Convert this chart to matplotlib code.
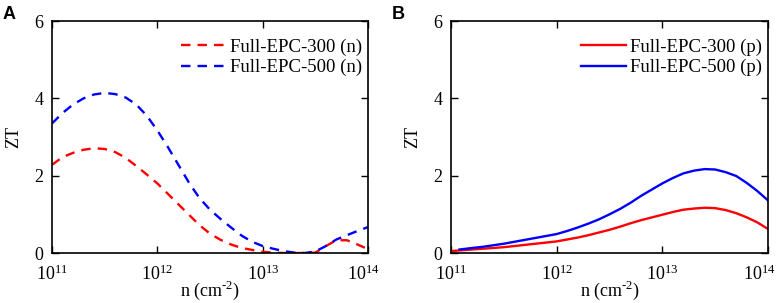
import numpy as np
import matplotlib
matplotlib.use("Agg")
import matplotlib.pyplot as plt
from matplotlib.transforms import ScaledTranslation

# ---- data (log10 of n, ZT) ----
logn_a = [11.0, 11.1, 11.2, 11.3, 11.4, 11.5, 11.6, 11.7, 11.8, 11.9, 12.0,
          12.1, 12.2, 12.3, 12.4, 12.5, 12.6, 12.7, 12.8, 12.9, 13.0, 13.1,
          13.2, 13.3, 13.4, 13.5, 13.6, 13.7, 13.8, 13.9, 14.0]
zt_n300 = [2.28, 2.48, 2.59, 2.67, 2.71, 2.69, 2.61, 2.46, 2.25, 2.03, 1.80,
           1.53, 1.26, 0.99, 0.72, 0.50, 0.34, 0.22, 0.13, 0.08, 0.03, 0.01,
           0.0, 0.0, 0.0, 0.01, 0.18, 0.33, 0.33, 0.22, 0.10]
zt_n500 = [3.35, 3.62, 3.84, 4.00, 4.10, 4.14, 4.11, 4.02, 3.84, 3.55, 3.17,
           2.74, 2.28, 1.82, 1.42, 1.12, 0.88, 0.66, 0.45, 0.29, 0.18, 0.11,
           0.05, 0.01, 0.0, 0.04, 0.18, 0.35, 0.46, 0.57, 0.67]

logn_b300 = [11.0, 11.1, 11.2, 11.3, 11.4, 11.5, 11.6, 11.7, 11.8, 11.9, 12.0,
             12.1, 12.2, 12.3, 12.4, 12.5, 12.6, 12.7, 12.8, 12.9, 13.0, 13.1,
             13.2, 13.3, 13.4, 13.5, 13.6, 13.7, 13.8, 13.9, 14.0]
zt_p300 = [0.05, 0.07, 0.09, 0.11, 0.13, 0.15, 0.18, 0.21, 0.24, 0.27, 0.30,
           0.35, 0.40, 0.46, 0.53, 0.60, 0.68, 0.77, 0.85, 0.92, 0.99, 1.06,
           1.12, 1.15, 1.17, 1.16, 1.11, 1.03, 0.92, 0.79, 0.62]
logn_b500 = [11.08, 11.2, 11.3, 11.4, 11.5, 11.6, 11.7, 11.8, 11.9, 12.0,
             12.1, 12.2, 12.3, 12.4, 12.5, 12.6, 12.7, 12.8, 12.9, 13.0, 13.1,
             13.2, 13.3, 13.4, 13.5, 13.6, 13.7, 13.8, 13.9, 14.0]
zt_p500 = [0.09, 0.13, 0.16, 0.20, 0.24, 0.29, 0.34, 0.39, 0.44, 0.49,
           0.57, 0.66, 0.76, 0.87, 1.00, 1.14, 1.30, 1.48, 1.64, 1.80, 1.94,
           2.06, 2.13, 2.17, 2.16, 2.09, 1.99, 1.81, 1.60, 1.36]

xticks = [1e11, 1e12, 1e13, 1e14]
xticklabels = [r"$\mathregular{10^{11}}$", r"$\mathregular{10^{12}}$",
               r"$\mathregular{10^{13}}$", r"$\mathregular{10^{14}}$"]
yticks = [0, 2, 4, 6]

plt.rcParams['font.family'] = ['Liberation Serif', 'DejaVu Serif']
plt.rcParams['mathtext.fontset'] = 'custom'
plt.rcParams['mathtext.rm'] = 'Liberation Serif'

fig = plt.figure(figsize=(7.82, 3.03), dpi=100)
W, H = 782, 303
axA = fig.add_axes([52 / W, 1 - 253 / H, (368 - 52) / W, (253 - 21) / H])
axB = fig.add_axes([451 / W, 1 - 253 / H, (768 - 451) / W, (253 - 21) / H])


def style(ax, last_shift_px):
    ax.set_xscale('log')
    ax.set_xlim(1e11, 1e14)
    ax.set_ylim(0, 6)
    ax.set_xticks(xticks)
    ax.set_xticklabels(xticklabels)
    ax.xaxis.set_minor_locator(matplotlib.ticker.NullLocator())
    ax.set_yticks(yticks)
    ax.tick_params(direction='in', top=True, right=True, length=5, width=1.0,
                   labelsize=13)
    ax.tick_params(axis='x', pad=8)
    ax.tick_params(axis='y', pad=6)
    for s in ax.spines.values():
        s.set_linewidth(1.2)
    ax.set_xlabel(r"n (cm$^{\text{-2}}$)", fontsize=13, labelpad=-3.5)
    ax.set_ylabel("ZT", fontsize=13, labelpad=9)
    lab = ax.get_xticklabels()[-1]
    lab.set_transform(lab.get_transform() +
                      ScaledTranslation(-last_shift_px / 100, 0, fig.dpi_scale_trans))


leg_kw = dict(loc='upper right', bbox_to_anchor=(1.011, 0.964), frameon=False,
              fontsize=13.5, handlelength=2.4, handletextpad=0.2,
              borderaxespad=0.1, labelspacing=0.15)

nA = [10 ** v for v in logn_a]
axA.plot(nA, zt_n300, color='#ff0000', ls=(0, (4, 3)), lw=1.7, label='Full-EPC-300 (n)')
axA.plot(nA, zt_n500, color='#0000ff', ls=(0, (4, 3)), lw=1.7, label='Full-EPC-500 (n)')
style(axA, 5)
axA.legend(**leg_kw)

axB.plot([10 ** v for v in logn_b300], zt_p300, color='#ff0000', lw=1.7, label='Full-EPC-300 (p)')
axB.plot([10 ** v for v in logn_b500], zt_p500, color='#0000ff', lw=1.7, label='Full-EPC-500 (p)')
style(axB, 9)
axB.legend(**leg_kw)

fig.text(3 / W, 1 - 19 / H, 'A', fontsize=13, fontweight='bold',
         family=['Liberation Sans', 'DejaVu Sans'])
fig.text(392 / W, 1 - 19 / H, 'B', fontsize=13, fontweight='bold',
         family=['Liberation Sans', 'DejaVu Sans'])

fig.savefig('out.png', dpi=100)
